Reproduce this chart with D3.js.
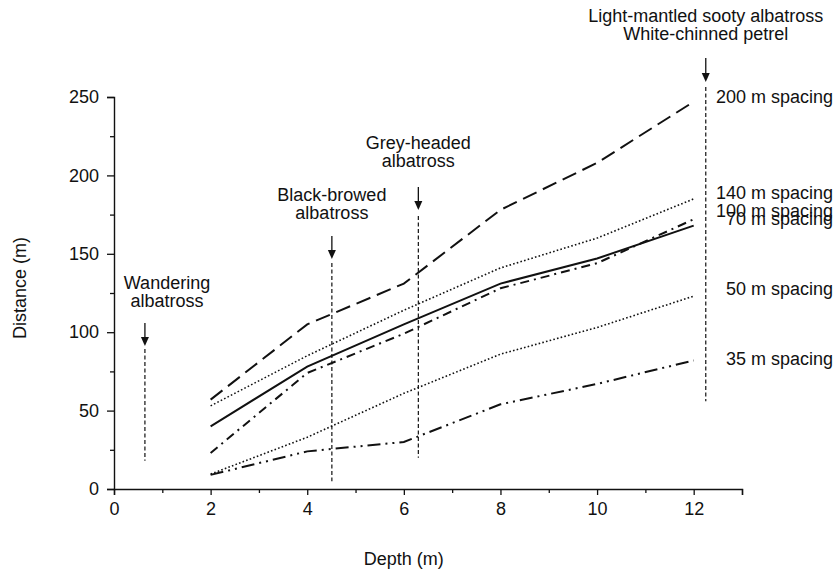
<!DOCTYPE html>
<html>
<head>
<meta charset="utf-8">
<script src="https://cdn.jsdelivr.net/npm/d3@7"></script>
<style>
  html, body { margin: 0; padding: 0; background: #fff; }
  svg { display: block; font-family: "Liberation Sans", Arial, Helvetica, sans-serif; }
</style>
</head>
<body>
<svg id="chart" width="838" height="575"></svg>
<script>
// ---- data ----
const depths = [2, 4, 6, 8, 10, 12];
const s200 = [57, 105, 131, 178, 208, 247];
const s140 = [53, 85, 114, 141, 160, 185];
const s100 = [23, 74, 99, 128, 144, 172];
const s70  = [40, 78, 105, 131, 147, 168];
const s50  = [9.5, 33, 61, 86, 103, 123];
const s35  = [9, 24, 30, 54, 67, 82];
const seriesNames = ["200 m spacing", "140 m spacing", "100 m spacing", "70 m spacing", "50 m spacing", "35 m spacing"];
const xTickLabels = [0, 2, 4, 6, 8, 10, 12];
const yTickLabels = [0, 50, 100, 150, 200, 250];
const birdNames = [["Wandering", "albatross"], ["Black-browed", "albatross"], ["Grey-headed", "albatross"], ["Light-mantled sooty albatross", "White-chinned petrel"]];
const birdDepths = [0.64, 4.51, 6.30, 12.25];

// ---- layout ----
const svg = d3.select("#chart");
const x = d3.scaleLinear().domain([0, 13]).range([114, 742]);
const y = d3.scaleLinear().domain([0, 250]).range([489, 97]);
const FONT = 18;

const styles = [
  { dash: "15,7", w: 2 },          // 200
  { dash: "1.6,2.2", w: 1.6 },     // 140
  { dash: "9,5,2,5", w: 2 },       // 100
  { dash: null, w: 2 },            // 70
  { dash: "1.6,2.2", w: 1.6 },     // 50
  { dash: "13,5,2,5,2,5", w: 2 }   // 35
];
const allSeries = [s200, s140, s100, s70, s50, s35];

// axes
const xAxis = d3.axisBottom(x)
  .tickValues(d3.range(0, 14))
  .tickSizeOuter(0)
  .tickSize(6)
  .tickPadding(7)
  .tickFormat(d => xTickLabels.includes(d) ? d : "");
const gx = svg.append("g").attr("transform", `translate(0,${y(0)})`).call(xAxis);
gx.selectAll(".tick line").attr("y2", d => (d % 2 === 0 || d === 13) ? 6 : 4);

const yAxis = d3.axisLeft(y)
  .tickValues(d3.range(0, 251, 25))
  .tickSizeOuter(0)
  .tickSize(7)
  .tickPadding(8)
  .tickFormat(d => yTickLabels.includes(d) ? d : "");
const gy = svg.append("g").attr("transform", `translate(${x(0)},0)`).call(yAxis);
gy.selectAll(".tick line").attr("x2", d => d % 50 === 0 ? -7 : -4);

[gx, gy].forEach(g => {
  g.select(".domain").attr("stroke", "#111").attr("stroke-width", 1.4);
  g.selectAll(".tick line").attr("stroke", "#111").attr("stroke-width", 1.3);
  g.selectAll("text").attr("font-size", FONT).attr("font-family", "Liberation Sans, Arial, sans-serif").attr("fill", "#111");
});

// axis titles
svg.append("text").attr("x", x(6)).attr("y", 565).attr("text-anchor", "middle")
  .attr("font-size", FONT).attr("fill", "#111").text("Depth (m)");
svg.append("text").attr("transform", `translate(26,${(y(0) + y(250)) / 2 - 5}) rotate(-90)`)
  .attr("text-anchor", "middle").attr("font-size", FONT).attr("fill", "#111").text("Distance (m)");

// series lines
const line = d3.line().x((d, i) => x(depths[i])).y(d => y(d));
allSeries.forEach((s, k) => {
  svg.append("path").datum(s).attr("d", line)
    .attr("fill", "none").attr("stroke", "#111")
    .attr("stroke-width", styles[k].w)
    .attr("stroke-dasharray", styles[k].dash);
});

// series labels (right side)
const labelY = [250, 188.8, 177, 172, 127.5, 83];
seriesNames.forEach((n, k) => {
  svg.append("text").attr("x", 833).attr("y", y(labelY[k]) + 6)
    .attr("text-anchor", "end").attr("font-size", FONT).attr("fill", "#111").text(n);
});

// bird annotations: [text center x (px offset), line1 baseline, arrow top, arrow tip, line top, line bottom value]
const ann = [
  { tx: 167, b1: 289, aTop: 323, aTip: 346, lTop: 349, lBot: 18 },
  { tx: null, b1: 201, aTop: 236, aTip: 259, lTop: 263, lBot: 5 },
  { tx: null, b1: 149, aTop: 187, aTip: 210, lTop: 216, lBot: 20 },
  { tx: null, b1: 22,  aTop: 58,  aTip: 82,  lTop: 87,  lBot: 56 }
];
birdNames.forEach((lines, k) => {
  const a = ann[k];
  const cx = x(birdDepths[k]);
  const tx = a.tx == null ? cx : a.tx;
  lines.forEach((t, j) => {
    svg.append("text").attr("x", tx).attr("y", a.b1 + j * 18)
      .attr("text-anchor", "middle").attr("font-size", FONT).attr("fill", "#111").text(t);
  });
  // arrow shaft
  svg.append("line").attr("x1", cx).attr("x2", cx).attr("y1", a.aTop).attr("y2", a.aTip - 6)
    .attr("stroke", "#111").attr("stroke-width", 1.3);
  // arrow head
  svg.append("path")
    .attr("d", `M${cx - 4},${a.aTip - 9} L${cx + 4},${a.aTip - 9} L${cx},${a.aTip} Z`)
    .attr("fill", "#111");
  // dashed vertical line
  svg.append("line").attr("x1", cx).attr("x2", cx).attr("y1", a.lTop).attr("y2", y(a.lBot))
    .attr("stroke", "#111").attr("stroke-width", 1.2).attr("stroke-dasharray", "4,2.5");
});
</script>
</body>
</html>
